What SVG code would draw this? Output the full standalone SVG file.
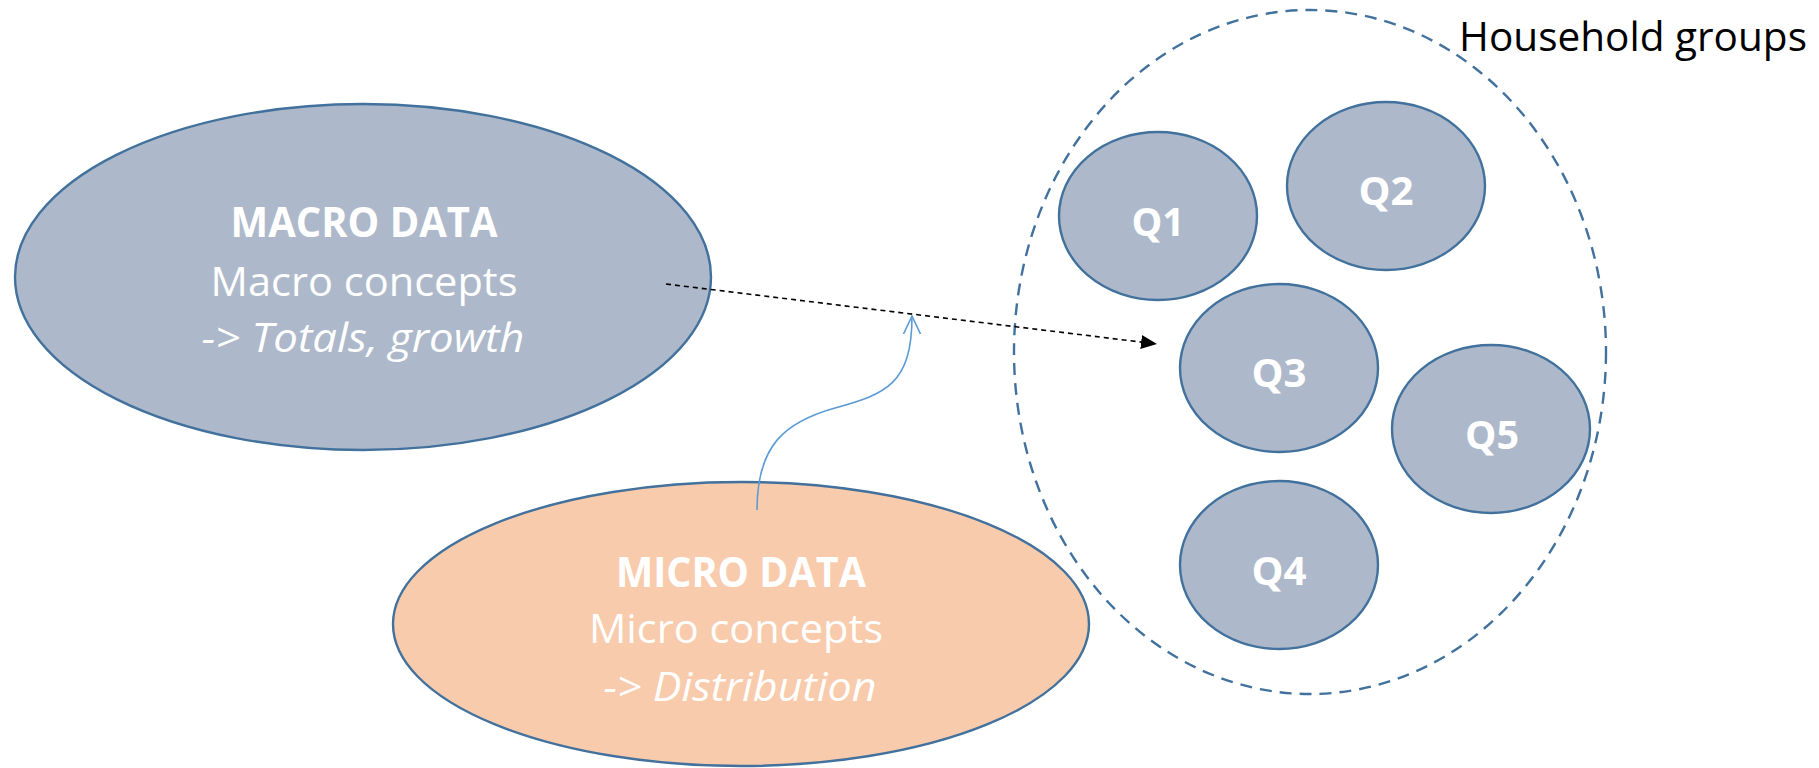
<svg xmlns="http://www.w3.org/2000/svg" width="1819" height="768" viewBox="0 0 1819 768">
  <defs>
    <style>
      .blue { fill: #ADB9CA; stroke: #41719C; stroke-width: 2.4; }
      .peach { fill: #F8CBAD; stroke: #41719C; stroke-width: 2.4; }
      .group { fill: none; stroke: #41719C; stroke-width: 2.4; stroke-dasharray: 12 8; }
      .t { font-family: "Open Sans", "Noto Sans", "Liberation Sans", sans-serif; fill: #FFFFFF; text-anchor: middle; font-size: 41px; }
      .b { font-weight: bold; }
      .i { font-style: italic; }
      .q { font-family: "Open Sans", "Noto Sans", "Liberation Sans", sans-serif; fill: #FFFFFF; text-anchor: middle; font-size: 39px; font-weight: bold; }
      .label { font-family: "Open Sans", "Noto Sans", "Liberation Sans", sans-serif; fill: #000000; font-size: 41px; }
      .flow { fill: none; stroke: #000000; stroke-width: 1.6; stroke-dasharray: 5 4; }
      .feed { fill: none; stroke: #5B9BD5; stroke-width: 1.6; }
    </style>
    <marker id="solidHead" viewBox="0 0 16 14" refX="16" refY="7" markerWidth="16" markerHeight="14" markerUnits="userSpaceOnUse" orient="auto">
      <path d="M0,0 L16,7 L0,14 Z" fill="#000000"/>
    </marker>
    <marker id="openHead" viewBox="0 0 20 20" refX="18" refY="10" markerWidth="20" markerHeight="20" markerUnits="userSpaceOnUse" orient="auto">
      <path d="M0,1.5 L18,10 L0,18.5" fill="none" stroke="#5B9BD5" stroke-width="1.6"/>
    </marker>
  </defs>

  <!-- household groups container -->
  <g id="household-groups">
    <ellipse class="group" cx="1310" cy="352" rx="296" ry="342"/>
    <text class="label" x="1459" y="51" textLength="348" lengthAdjust="spacingAndGlyphs">Household groups</text>
  </g>

  <g id="macro-data">
    <ellipse class="blue" cx="363" cy="277" rx="348" ry="173"/>
    <text class="t b" x="364" y="237" textLength="267" lengthAdjust="spacingAndGlyphs">MACRO DATA</text>
    <text class="t" x="364" y="296" textLength="307" lengthAdjust="spacingAndGlyphs">Macro concepts</text>
    <text class="t i" x="363" y="352" textLength="323" lengthAdjust="spacingAndGlyphs">-&gt; Totals, growth</text>
  </g>

  <g id="micro-data">
    <ellipse class="peach" cx="741" cy="624" rx="348" ry="142"/>
    <text class="t b" x="741" y="587" textLength="250" lengthAdjust="spacingAndGlyphs">MICRO DATA</text>
    <text class="t" x="736" y="643" textLength="294" lengthAdjust="spacingAndGlyphs">Micro concepts</text>
    <text class="t i" x="740" y="701" textLength="273" lengthAdjust="spacingAndGlyphs">-&gt; Distribution</text>
  </g>

  <g id="q1">
    <ellipse class="blue" cx="1158" cy="216" rx="99" ry="84"/>
    <text class="q" x="1158" y="236" textLength="53" lengthAdjust="spacingAndGlyphs">Q1</text>
  </g>
  <g id="q2">
    <ellipse class="blue" cx="1386" cy="186" rx="99" ry="84"/>
    <text class="q" x="1386" y="205" textLength="55" lengthAdjust="spacingAndGlyphs">Q2</text>
  </g>
  <g id="q3">
    <ellipse class="blue" cx="1279" cy="368" rx="99" ry="84"/>
    <text class="q" x="1279" y="387" textLength="55" lengthAdjust="spacingAndGlyphs">Q3</text>
  </g>
  <g id="q5">
    <ellipse class="blue" cx="1491" cy="429" rx="99" ry="84"/>
    <text class="q" x="1492" y="449" textLength="54" lengthAdjust="spacingAndGlyphs">Q5</text>
  </g>
  <g id="q4">
    <ellipse class="blue" cx="1279" cy="565" rx="99" ry="84"/>
    <text class="q" x="1279" y="585" textLength="55" lengthAdjust="spacingAndGlyphs">Q4</text>
  </g>

  <g id="connectors">
    <path class="flow" d="M666,284 L1157,344" marker-end="url(#solidHead)"/>
    <path class="feed" d="M757,510 C757,445 785,422 835,408 C885,394 912,385 912,316" marker-end="url(#openHead)"/>
  </g>
</svg>
